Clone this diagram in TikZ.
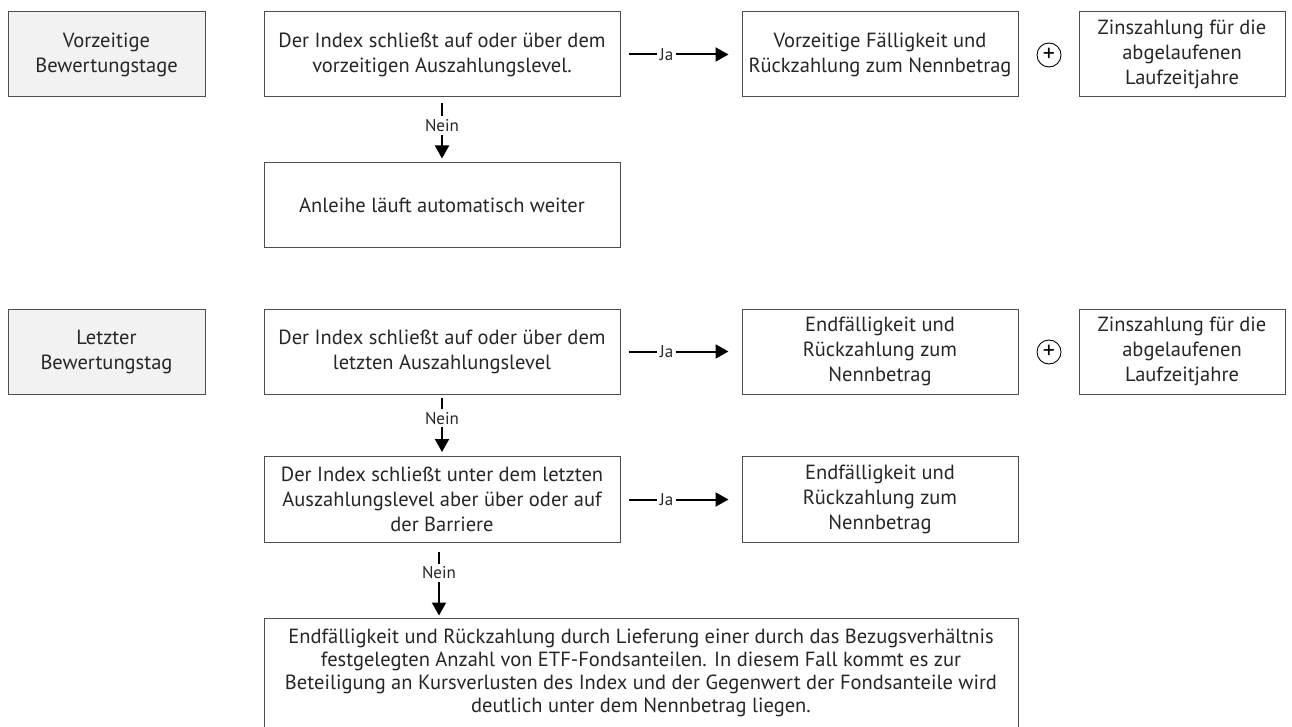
\documentclass[tikz,border=0pt]{standalone}
\usepackage{fontspec}
\setmainfont{PT Sans}
\usetikzlibrary{arrows.meta}
\definecolor{txt}{HTML}{262626}
\definecolor{bord}{HTML}{4D4D4D}
\definecolor{gfill}{HTML}{F2F2F2}
\tikzset{
  box/.style={draw=bord, line width=1pt, text=txt, align=center, inner sep=2pt,
    font=\fontsize{20.5}{25}\selectfont},
  gbox/.style={box, fill=gfill},
  plus/.style={draw=black, line width=0.9pt, circle, minimum size=24pt, inner sep=0pt,
    font=\fontsize{24}{24}\selectfont},
  arr/.style={line width=2pt, -{Triangle[length=13pt,width=14pt]}},
  lbl/.style={fill=white, text=txt, inner sep=3pt, font=\fontsize{17}{18}\selectfont}
}
\begin{document}
\begin{tikzpicture}[x=1pt,y=-1pt]
\useasboundingbox (0,0) rectangle (1292,727);
% row 1
\node[gbox, minimum width=197pt, minimum height=85pt] (G1) at (106.5,54.5) {Vorzeitige\\Bewertungstage};
\node[box, minimum width=356pt, minimum height=85pt] (A1) at (442,54.5) {Der Index schließt auf oder über dem\\vorzeitigen Auszahlungslevel.};
\node[box, minimum width=276pt, minimum height=85pt] (B1) at (880,54.5) {Vorzeitige Fälligkeit und\\Rückzahlung zum Nennbetrag};
\node[plus] (P1) at (1049,55) {+};
\node[box, minimum width=206pt, minimum height=85pt] (C1) at (1182,54.5) {Zinszahlung für die\\abgelaufenen\\Laufzeitjahre};
\node[box, minimum width=356pt, minimum height=85pt] (An) at (442,205.5) {Anleihe läuft automatisch weiter};
% row 2
\node[gbox, minimum width=197pt, minimum height=85pt] (G2) at (106.5,351.5) {Letzter\\Bewertungstag};
\node[box, minimum width=356pt, minimum height=85pt] (A2) at (442,351.5) {Der Index schließt auf oder über dem\\letzten Auszahlungslevel};
\node[box, minimum width=276pt, minimum height=85pt] (B2) at (880,351.5) {Endfälligkeit und\\Rückzahlung zum\\Nennbetrag};
\node[plus] (P2) at (1049,352) {+};
\node[box, minimum width=206pt, minimum height=85pt] (C2) at (1182,351.5) {Zinszahlung für die\\abgelaufenen\\Laufzeitjahre};
% row 3
\node[box, minimum width=356pt, minimum height=86pt] (A3) at (442,499.5) {Der Index schließt unter dem letzten\\Auszahlungslevel aber über oder auf\\der Barriere};
\node[box, minimum width=276pt, minimum height=86pt] (B3) at (880,499.5) {Endfälligkeit und\\Rückzahlung zum\\Nennbetrag};
% final
\node[box, minimum width=754pt, minimum height=109pt, font=\fontsize{20.5}{23}\selectfont] (F) at (641,672.5) {Endfälligkeit und Rückzahlung durch Lieferung einer durch das Bezugsverhältnis\\festgelegten Anzahl von ETF-Fondsanteilen. In diesem Fall kommt es zur\\Beteiligung an Kursverlusten des Index und der Gegenwert der Fondsanteile wird\\deutlich unter dem Nennbetrag liegen.};
% connectors
\draw[arr] ([xshift=8pt]A1.east) -- node[lbl,pos=0.38]{Ja} ([xshift=-13pt]B1.west);
\draw[arr] ([xshift=8pt]A2.east) -- node[lbl,pos=0.38]{Ja} ([xshift=-13pt]B2.west);
\draw[arr] ([xshift=8pt]A3.east) -- node[lbl,pos=0.38]{Ja} ([xshift=-13pt]B3.west);
\draw[arr] ([yshift=-6pt]A1.south) -- node[lbl,pos=0.4]{Nein} ([yshift=4pt]An.north);
\draw[arr] ([yshift=-3pt]A2.south) -- node[lbl,pos=0.38]{Nein} ([yshift=4pt]A3.north);
\draw[arr] ([xshift=-3pt,yshift=-9pt]A3.south) -- node[lbl,pos=0.33]{Nein} ([xshift=-3pt,yshift=2pt]A3.south |- F.north);
\end{tikzpicture}
\end{document}
